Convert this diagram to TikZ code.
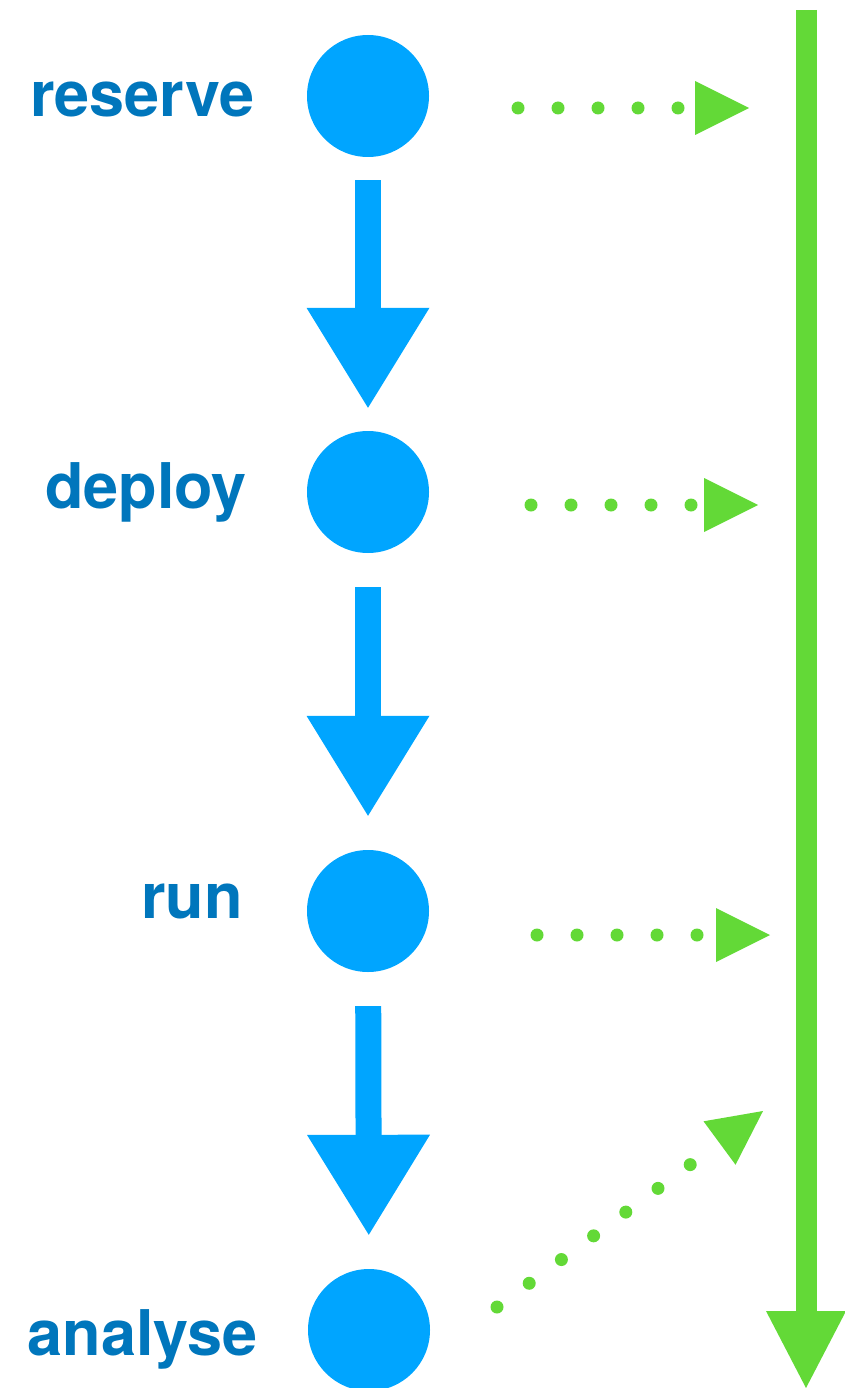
\documentclass[tikz,border=0pt]{standalone}
\usepackage{fontspec}
\setmainfont{TeX Gyre Heros}
\usetikzlibrary{arrows.meta}
\definecolor{stepblue}{RGB}{0,165,255}
\definecolor{labelblue}{RGB}{0,118,188}
\definecolor{flowgreen}{RGB}{99,217,55}
\begin{document}
\begin{tikzpicture}[x=1pt,y=-1pt,
  stage/.style={circle,fill=stepblue,minimum size=122pt,inner sep=0pt},
  lbl/.style={text=labelblue,font=\fontsize{63}{70}\selectfont\bfseries,anchor=base east,inner sep=0pt},
  flow/.style={draw=stepblue,line width=26pt,
    -{Triangle[length=100pt,width=123pt,line width=0pt]},
    shorten <=#1,shorten >=#1},
  flow/.default=23pt,
  hint/.style={draw=flowgreen,line width=13pt,line cap=round,
    dash pattern=on 0pt off 40pt,
    -{Triangle[length=54pt,width=54pt,line width=0pt]}},
  timeline/.style={draw=flowgreen,line width=21pt,
    -{Triangle[length=77pt,width=80pt,line width=0pt]}}]
  \useasboundingbox (0,0) rectangle (845,1388);
  \clip (0,0) rectangle (845,1388);

  % pipeline stages
  \node[stage] (reserve) at (368,96) {};
  \node[stage] (deploy)  at (368,492) {};
  \node[stage] (run)     at (368,911) {};
  \node[stage] (analyse) at (369,1330) {};

  \node[lbl] (lreserve) at (255,117)  {reserve};
  \node[lbl] (ldeploy)  at (247,508)  {deploy};
  \node[lbl] (lrun)     at (243,918)  {run};
  \node[lbl] (lanalyse) at (258,1355) {analyse};

  \draw[flow] (reserve) -- (deploy);
  \draw[flow=34pt] (deploy) -- (run);
  \draw[flow=34pt] (run) -- (analyse);

  % overall time line
  \coordinate (ttop) at (806,10);
  \coordinate (tend) at (806,1388);
  \draw[timeline] (ttop) -- (tend);

  % hints towards the time line
  \coordinate (h1s) at (518,108);  \coordinate (h1e) at (749,108);
  \coordinate (h2s) at (531,505);  \coordinate (h2e) at (758,505);
  \coordinate (h3s) at (537,935);  \coordinate (h3e) at (770,935);
  \coordinate (h4s) at (497,1307); \coordinate (h4e) at (763,1111);
  \draw[hint] (h1s) -- (h1e);
  \draw[hint] (h2s) -- (h2e);
  \draw[hint] (h3s) -- (h3e);
  \draw[hint] (h4s) -- (h4e);
\end{tikzpicture}
\end{document}
